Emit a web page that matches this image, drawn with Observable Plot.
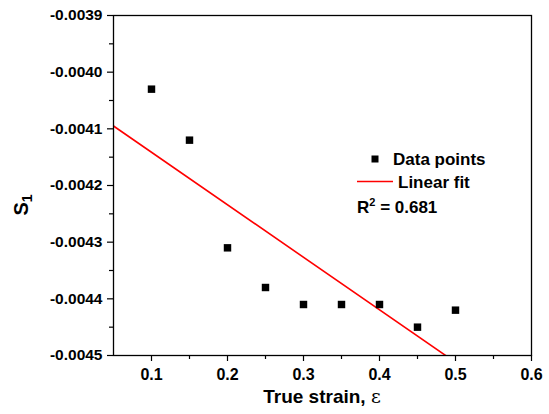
<!DOCTYPE html>
<html>
<head>
<meta charset="utf-8">
<script src="https://cdn.jsdelivr.net/npm/d3@7"></script>
<script src="https://cdn.jsdelivr.net/npm/@observablehq/plot@0.6"></script>
<style>
  html, body { margin: 0; padding: 0; background: #fff; }
  #chart { position: relative; width: 549px; height: 414px; }
</style>
</head>
<body>
<div id="chart"></div>
<script>
// ---- data ----
const strain = [0.10, 0.15, 0.20, 0.25, 0.30, 0.35, 0.40, 0.45, 0.50];
const s1 = [-0.00403, -0.00412, -0.00431, -0.00438, -0.00441, -0.00441, -0.00441, -0.00445, -0.00442];
const xTicks = [0.1, 0.2, 0.3, 0.4, 0.5, 0.6];
const xMinorTicks = [0.15, 0.25, 0.35, 0.45, 0.55];
const yTicks = [-0.0045, -0.0044, -0.0043, -0.0042, -0.0041, -0.0040, -0.0039];
const yMinorTicks = [-0.00445, -0.00435, -0.00425, -0.00415, -0.00405, -0.00395];
const xDomain = [0.05, 0.6];
const yDomain = [-0.0045, -0.0039];
const legendLabels = ["Data points", "Linear fit"];
const r2Label = "0.681";

const points = strain.map((x, i) => ({x, y: s1[i]}));

// least-squares linear fit of the data
const mx = d3.mean(strain), my = d3.mean(s1);
const slope = d3.sum(strain, (x, i) => (x - mx) * (s1[i] - my)) / d3.sum(strain, x => (x - mx) ** 2);
const intercept = my - slope * mx;
const fitLine = xDomain.map(x => ({x, y: intercept + slope * x}));

const font = "Arial, 'Liberation Sans', sans-serif";
const plot = Plot.plot({
  width: 549,
  height: 414,
  marginLeft: 113,
  marginRight: 18,
  marginTop: 15,
  marginBottom: 59,
  style: {fontFamily: font, background: "#fff", color: "#000"},
  x: {domain: xDomain},
  y: {domain: yDomain},
  marks: [
    Plot.line(fitLine, {x: "x", y: "y", stroke: "#ff0000", strokeWidth: 1.6, clip: true}),
    Plot.dot(points, {x: "x", y: "y", symbol: "square", r: 4.2, fill: "#000", stroke: "none"}),
    Plot.frame({stroke: "#000", strokeWidth: 1.3}),
    Plot.axisX({ticks: xTicks, tickSize: 6, tickPadding: 7, tickFormat: d => d.toFixed(1),
      fontSize: 16, label: null, strokeWidth: 1.2}),
    Plot.axisX({ticks: xMinorTicks, tickSize: 4, text: null, label: null, strokeWidth: 1.2}),
    Plot.axisY({ticks: yTicks, tickSize: 6, tickPadding: 5, tickFormat: d => d.toFixed(4),
      fontSize: 15.5, label: null, strokeWidth: 1.2}),
    Plot.axisY({ticks: yMinorTicks, tickSize: 4, text: null, label: null, strokeWidth: 1.2})
  ]
});

document.getElementById("chart").appendChild(plot);

const svg = d3.select(plot);
// bold tick labels
svg.selectAll('g[aria-label$="tick label"]').attr("font-weight", "bold").style("font-weight", "bold");
svg.selectAll('g[aria-label$="tick label"] text').style("font-weight", "bold");

// axis titles and legend overlay
svg.append("text")
  .attr("x", 322).attr("y", 403)
  .attr("text-anchor", "middle")
  .attr("font-size", 19).attr("font-weight", "bold")
  .text("True strain, ")
  .append("tspan").attr("font-weight", "normal").attr("font-family", "'DejaVu Serif', serif").text("ε");

const yl = svg.append("text")
  .attr("transform", "translate(28,205) rotate(-90)")
  .attr("text-anchor", "middle")
  .attr("font-size", 20).attr("font-weight", "bold");
yl.append("tspan").text("S");
yl.append("tspan").attr("font-size", 14).attr("dy", 4).text("1");

const lg = svg.append("g").attr("text-anchor", "start");
lg.append("rect").attr("x", 371.5).attr("y", 155.5).attr("width", 7).attr("height", 7).attr("fill", "#000");
lg.append("text").attr("x", 393).attr("y", 165).attr("text-anchor", "start")
  .attr("font-size", 17).attr("font-weight", "bold").text(legendLabels[0]);
lg.append("line").attr("x1", 357).attr("x2", 393).attr("y1", 181.5).attr("y2", 181.5)
  .attr("stroke", "#ff0000").attr("stroke-width", 1.6);
lg.append("text").attr("x", 398).attr("y", 187.5).attr("text-anchor", "start")
  .attr("font-size", 17).attr("font-weight", "bold").text(legendLabels[1]);
const r2 = lg.append("text").attr("x", 357).attr("y", 213).attr("text-anchor", "start")
  .attr("font-size", 17).attr("font-weight", "bold");
r2.append("tspan").text("R");
r2.append("tspan").attr("font-size", 11).attr("dy", -7).text("2");
r2.append("tspan").attr("dy", 7).text(" = " + r2Label);
</script>
</body>
</html>
